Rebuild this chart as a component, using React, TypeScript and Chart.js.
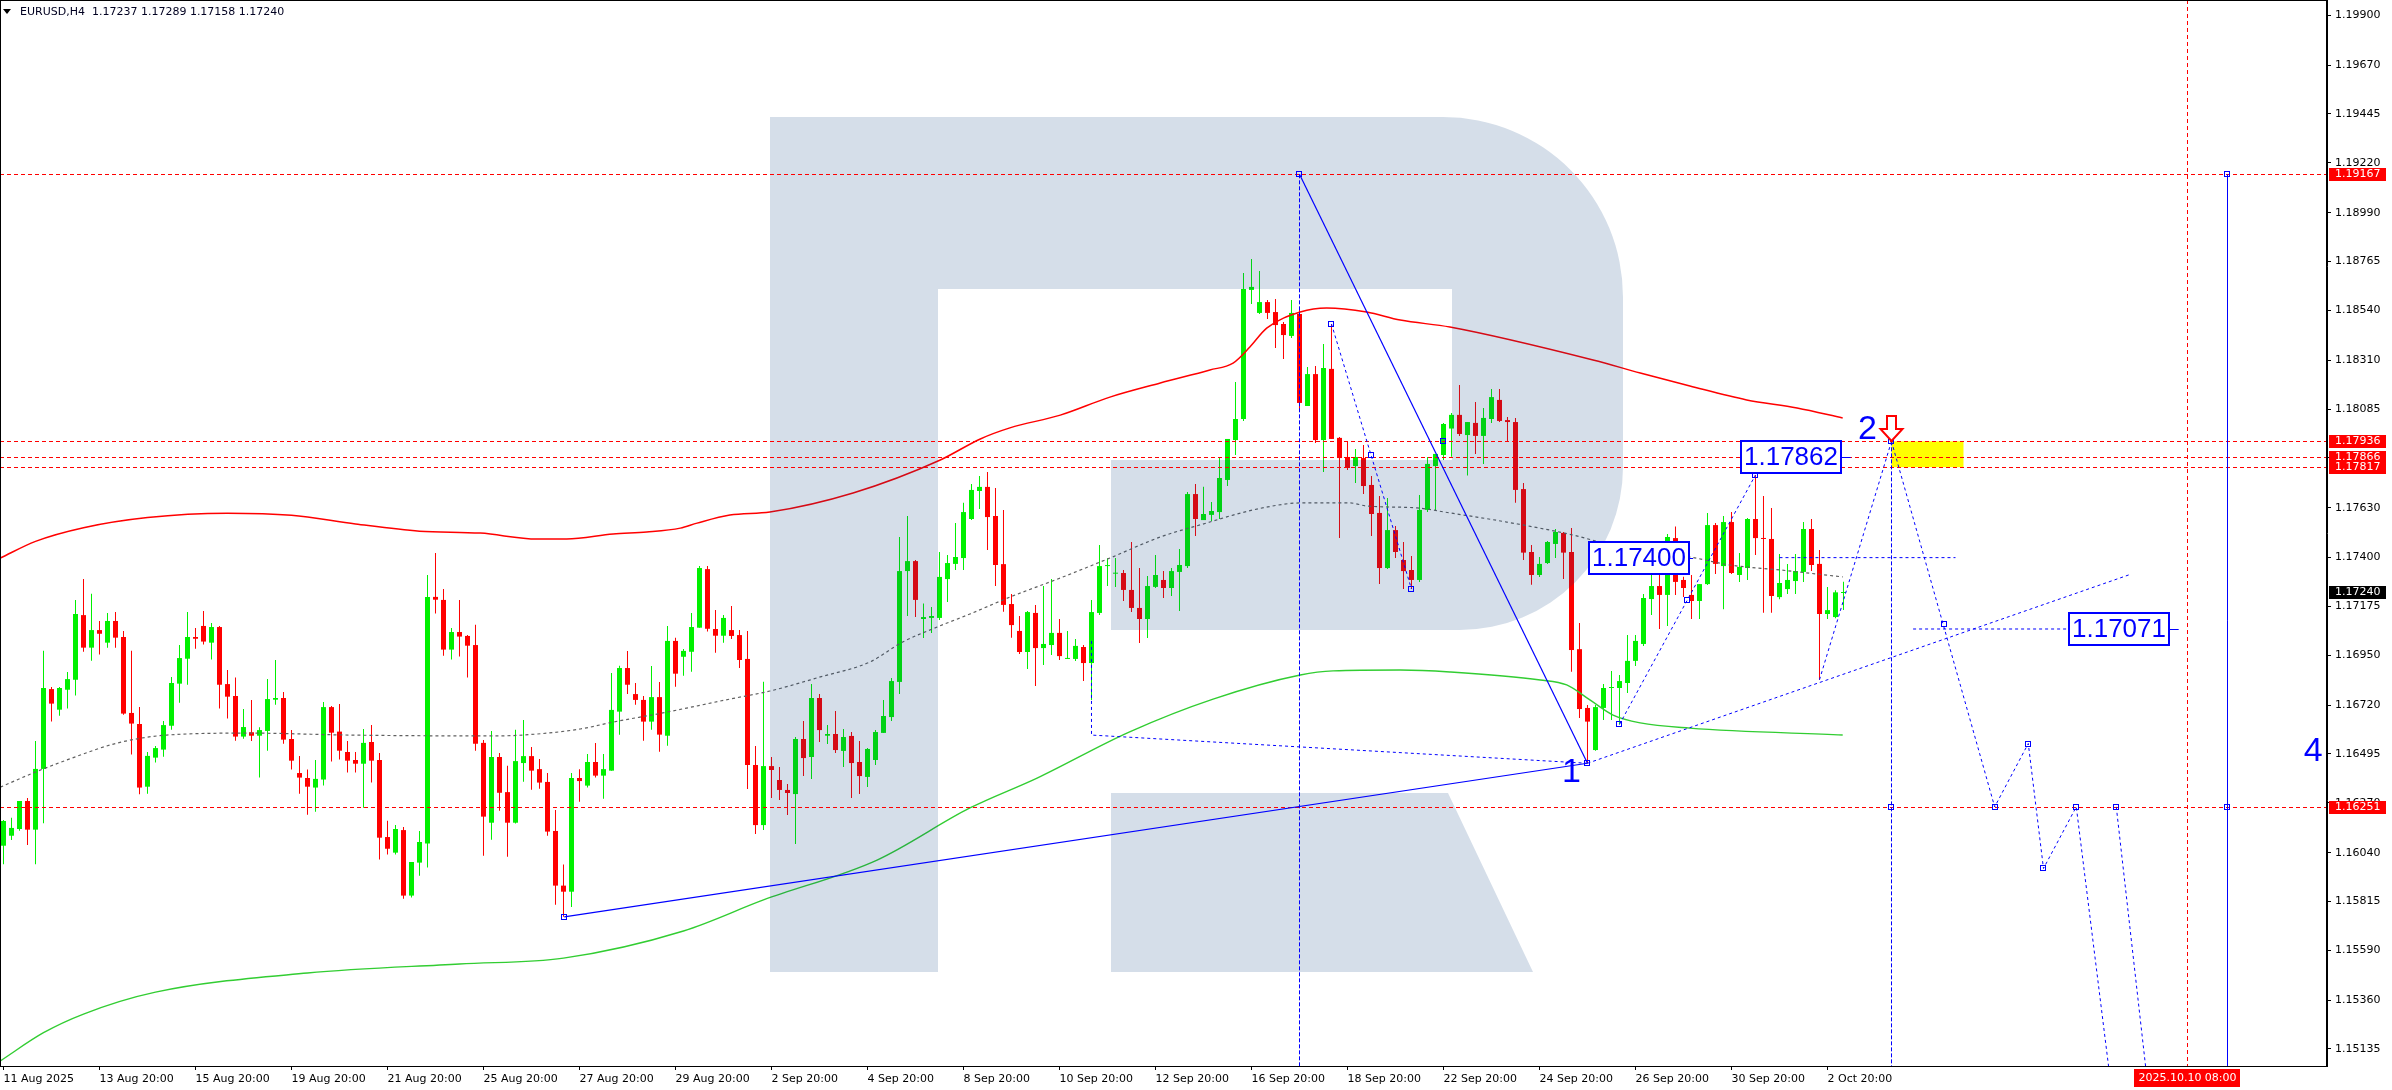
import React, { useEffect, useRef } from "react";
import { Chart, registerables } from "chart.js";

Chart.register(...registerables);

const symbolTitle = "EURUSD,H4";
const lastBarOHLC = ["1.17237", "1.17289", "1.17158", "1.17240"];

const xTickLabels = [
  "11 Aug 2025", "13 Aug 20:00", "15 Aug 20:00", "19 Aug 20:00", "21 Aug 20:00",
  "25 Aug 20:00", "27 Aug 20:00", "29 Aug 20:00", "2 Sep 20:00", "4 Sep 20:00",
  "8 Sep 20:00", "10 Sep 20:00", "12 Sep 20:00", "16 Sep 20:00", "18 Sep 20:00",
  "22 Sep 20:00", "24 Sep 20:00", "26 Sep 20:00", "30 Sep 20:00", "2 Oct 20:00",
];
const xTickStep = 12;

const yTickValues = [
  1.199, 1.1967, 1.19445, 1.1922, 1.1899, 1.18765, 1.1854, 1.1831, 1.18085, 1.1786,
  1.1763, 1.174, 1.17175, 1.1695, 1.1672, 1.16495, 1.1627, 1.1604, 1.15815, 1.1559,
  1.1536, 1.15135,
];

const opens = [
  1.16072, 1.16118, 1.16149, 1.16278, 1.16146, 1.16426, 1.16794, 1.16699, 1.16791, 1.16837,
  1.17135, 1.16985, 1.17066, 1.17008, 1.17108, 1.17034, 1.16684, 1.16633, 1.16344, 1.16478,
  1.16515, 1.16625, 1.16819, 1.16934, 1.17034, 1.17085, 1.17008, 1.1708, 1.16817, 1.16762,
  1.16575, 1.16595, 1.16579, 1.16601, 1.16745, 1.16753, 1.16564, 1.16407, 1.16384, 1.1634,
  1.16377, 1.16711, 1.16598, 1.16504, 1.16467, 1.1645, 1.1655, 1.16467, 1.16112, 1.1604,
  1.16144, 1.15842, 1.15994, 1.16082, 1.17219, 1.17205, 1.16976, 1.17057, 1.17039, 1.16997,
  1.16546, 1.16178, 1.16481, 1.16319, 1.16178, 1.16453, 1.16485, 1.16425, 1.16366, 1.1614,
  1.15888, 1.1586, 1.16384, 1.16349, 1.16458, 1.16395, 1.16418, 1.1669, 1.16891, 1.16771,
  1.16744, 1.16644, 1.16757, 1.16579, 1.17016, 1.16943, 1.16966, 1.17077, 1.17347, 1.17071,
  1.1704, 1.17066, 1.17043, 1.16933, 1.16444, 1.16167, 1.16439, 1.16375, 1.16329, 1.1631,
  1.16564, 1.16481, 1.16753, 1.16579, 1.16587, 1.16509, 1.16578, 1.16458, 1.16389, 1.16467,
  1.16592, 1.16665, 1.16827, 1.17338, 1.17384, 1.17117, 1.17122, 1.17122, 1.17301, 1.17371,
  1.17398, 1.17578, 1.17707, 1.17726, 1.17592, 1.1737, 1.17186, 1.17062, 1.16965, 1.17145,
  1.16983, 1.16997, 1.17053, 1.16933, 1.16933, 1.16988, 1.16914, 1.17145, 1.17361, 1.17326,
  1.17329, 1.17251, 1.17168, 1.17117, 1.17265, 1.17297, 1.1726, 1.17334, 1.17361, 1.17693,
  1.17573, 1.17597, 1.1761, 1.17758, 1.17942, 1.18039, 1.18634, 1.18528, 1.18578, 1.18532,
  1.18477, 1.18422, 1.18523, 1.18099, 1.18246, 1.17942, 1.1827, 1.17952, 1.17864, 1.17822,
  1.17859, 1.17735, 1.17606, 1.17352, 1.17527, 1.17389, 1.17343, 1.17297, 1.1762, 1.17822,
  1.17873, 1.17995, 1.18058, 1.17965, 1.18021, 1.17961, 1.18039, 1.18127, 1.18034, 1.18025,
  1.17716, 1.17426, 1.1732, 1.17375, 1.17463, 1.17514, 1.17426, 1.16978, 1.16707, 1.16513,
  1.16707, 1.16799, 1.16799, 1.16822, 1.16924, 1.17002, 1.17209, 1.17269, 1.17228, 1.1749,
  1.17297, 1.17228, 1.172, 1.17278, 1.1755, 1.17361, 1.17564, 1.1732, 1.17352, 1.17578,
  1.1749, 1.17486, 1.17218, 1.17255, 1.17292, 1.17334, 1.17532, 1.17371, 1.1714, 1.17126,
  1.17237,
];
const highs = [
  1.1619, 1.16201, 1.16278, 1.16292, 1.16555, 1.16971, 1.16804, 1.16804, 1.16873, 1.17205,
  1.17301, 1.17234, 1.17108, 1.17145, 1.17149, 1.17062, 1.16971, 1.16711, 1.16504, 1.16532,
  1.16647, 1.1685, 1.16997, 1.17149, 1.17076, 1.17154, 1.17099, 1.17085, 1.16882, 1.16847,
  1.16702, 1.16744, 1.16618, 1.16841, 1.16928, 1.16781, 1.16605, 1.16486, 1.16423, 1.16467,
  1.16735, 1.16716, 1.16725, 1.16555, 1.16504, 1.1661, 1.16629, 1.16499, 1.16187, 1.16168,
  1.16158, 1.15997, 1.1614, 1.1732, 1.17421, 1.17255, 1.17076, 1.17205, 1.17043, 1.1709,
  1.16559, 1.16601, 1.16499, 1.16441, 1.16607, 1.16651, 1.16527, 1.16472, 1.16407, 1.16237,
  1.15985, 1.16407, 1.16425, 1.16495, 1.16545, 1.16495, 1.16868, 1.16902, 1.1697, 1.16822,
  1.16762, 1.169, 1.16827, 1.17085, 1.17031, 1.16979, 1.17145, 1.17361, 1.17361, 1.17159,
  1.17135, 1.17177, 1.17066, 1.17062, 1.16532, 1.16828, 1.16481, 1.16435, 1.16356, 1.16573,
  1.16647, 1.16817, 1.16771, 1.16628, 1.16693, 1.1661, 1.16596, 1.16555, 1.16522, 1.16605,
  1.16744, 1.16845, 1.17495, 1.17592, 1.17389, 1.17189, 1.17172, 1.17426, 1.17412, 1.1756,
  1.17653, 1.17739, 1.17776, 1.17795, 1.17721, 1.17619, 1.17232, 1.17131, 1.17154, 1.17182,
  1.17269, 1.17301, 1.17117, 1.17062, 1.17025, 1.16997, 1.17205, 1.17458, 1.17397, 1.17398,
  1.17343, 1.17472, 1.17352, 1.17315, 1.17412, 1.17338, 1.17352, 1.1744, 1.17702, 1.17739,
  1.17727, 1.17656, 1.17864, 1.17947, 1.1821, 1.18712, 1.18777, 1.18721, 1.18588, 1.18592,
  1.18486, 1.18588, 1.18542, 1.18279, 1.18283, 1.18385, 1.18477, 1.17956, 1.17938, 1.17901,
  1.17919, 1.17776, 1.17684, 1.17675, 1.17546, 1.17472, 1.17408, 1.17689, 1.17864, 1.17878,
  1.18021, 1.18067, 1.18196, 1.18025, 1.18117, 1.1809, 1.18177, 1.18177, 1.18048, 1.18044,
  1.17744, 1.17458, 1.17403, 1.17477, 1.17532, 1.17518, 1.17537, 1.17099, 1.16721, 1.16721,
  1.16817, 1.16877, 1.16859, 1.17043, 1.17043, 1.17232, 1.17325, 1.1732, 1.17509, 1.17543,
  1.17312, 1.1732, 1.17278, 1.17606, 1.1756, 1.17592, 1.1761, 1.17421, 1.17583, 1.17781,
  1.17684, 1.17629, 1.17417, 1.17371, 1.17417, 1.17564, 1.17578, 1.17435, 1.17264, 1.1725,
  1.17289,
];
const lows = [
  1.15986, 1.16098, 1.16141, 1.16075, 1.15986, 1.16175, 1.16644, 1.16671, 1.16704, 1.16764,
  1.16966, 1.16925, 1.16953, 1.16985, 1.16985, 1.16676, 1.16492, 1.16309, 1.16312, 1.16456,
  1.16482, 1.16607, 1.16731, 1.16814, 1.1698, 1.16999, 1.1693, 1.16704, 1.16658, 1.16556,
  1.16565, 1.16555, 1.16386, 1.1651, 1.16722, 1.16542, 1.16423, 1.16312, 1.16215, 1.16229,
  1.16349, 1.1646, 1.16469, 1.16409, 1.16409, 1.16247, 1.16363, 1.16008, 1.16031, 1.16031,
  1.15828, 1.15833, 1.15934, 1.15971, 1.17142, 1.16948, 1.1693, 1.16944, 1.16847, 1.1651,
  1.16026, 1.161, 1.16233, 1.16021, 1.16174, 1.16367, 1.1633, 1.16335, 1.16118, 1.158,
  1.15744, 1.1579, 1.16275, 1.1634, 1.16386, 1.16289, 1.16418, 1.16584, 1.16771, 1.16722,
  1.16556, 1.16607, 1.16505, 1.16533, 1.16805, 1.16856, 1.16874, 1.17077, 1.17059, 1.16962,
  1.17008, 1.17025, 1.16891, 1.16333, 1.16126, 1.16144, 1.16292, 1.16283, 1.16214, 1.1608,
  1.16393, 1.1638, 1.1655, 1.16541, 1.16499, 1.16435, 1.16292, 1.1631, 1.16343, 1.16444,
  1.16592, 1.16647, 1.16771, 1.17131, 1.17126, 1.1703, 1.17053, 1.17112, 1.17195, 1.17343,
  1.17343, 1.17573, 1.17624, 1.17435, 1.17269, 1.17151, 1.17031, 1.16956, 1.16887, 1.16808,
  1.16905, 1.16951, 1.16928, 1.16933, 1.16924, 1.16831, 1.16744, 1.17136, 1.17269, 1.17265,
  1.172, 1.17149, 1.17006, 1.1703, 1.1726, 1.17214, 1.17223, 1.17154, 1.17352, 1.175,
  1.17573, 1.17569, 1.17578, 1.1773, 1.17873, 1.1803, 1.18569, 1.18523, 1.185, 1.18366,
  1.18316, 1.18412, 1.18071, 1.18099, 1.17928, 1.17795, 1.17947, 1.17491, 1.17804, 1.17744,
  1.17693, 1.175, 1.17278, 1.17348, 1.17398, 1.17255, 1.17255, 1.17288, 1.1761, 1.1762,
  1.1785, 1.17865, 1.17961, 1.17778, 1.17878, 1.17832, 1.18021, 1.18025, 1.17938, 1.17653,
  1.17389, 1.17275, 1.17311, 1.17371, 1.17398, 1.17302, 1.16874, 1.16661, 1.16452, 1.1651,
  1.16652, 1.16652, 1.16631, 1.16776, 1.169, 1.16993, 1.17136, 1.17071, 1.17085, 1.17228,
  1.17219, 1.17117, 1.17117, 1.17274, 1.17325, 1.17162, 1.17325, 1.17288, 1.17297, 1.17412,
  1.17146, 1.17146, 1.17208, 1.17232, 1.17232, 1.17288, 1.17338, 1.16837, 1.17117, 1.17121,
  1.17158,
];
const closes = [
  1.16186, 1.16154, 1.16278, 1.16146, 1.16426, 1.16799, 1.16727, 1.16799, 1.1684, 1.1714,
  1.16985, 1.17066, 1.17049, 1.17108, 1.17031, 1.16681, 1.16635, 1.1634, 1.16486, 1.16522,
  1.16628, 1.16822, 1.16937, 1.17034, 1.17026, 1.17013, 1.1708, 1.16814, 1.16759, 1.16575,
  1.16619, 1.16579, 1.16605, 1.16748, 1.16753, 1.16561, 1.16464, 1.16386, 1.16344, 1.1638,
  1.16711, 1.16593, 1.1651, 1.16464, 1.1645, 1.16546, 1.16464, 1.16109, 1.16058, 1.16149,
  1.15842, 1.15997, 1.16089, 1.17219, 1.17206, 1.16976, 1.17057, 1.17036, 1.16994, 1.16542,
  1.16206, 1.16481, 1.16316, 1.16178, 1.16462, 1.16485, 1.16418, 1.16363, 1.16137, 1.15888,
  1.1586, 1.16384, 1.1637, 1.16458, 1.16395, 1.16425, 1.16698, 1.16891, 1.16814, 1.16744,
  1.16644, 1.16757, 1.16584, 1.17016, 1.16865, 1.1697, 1.1708, 1.17352, 1.17072, 1.1704,
  1.17122, 1.17039, 1.16928, 1.16444, 1.16167, 1.16439, 1.16421, 1.16329, 1.16315, 1.16564,
  1.16476, 1.16753, 1.16605, 1.16587, 1.16513, 1.16573, 1.16453, 1.16393, 1.16518, 1.16596,
  1.1667, 1.16831, 1.17338, 1.17384, 1.17205, 1.17126, 1.17131, 1.17311, 1.17375, 1.17403,
  1.1761, 1.17712, 1.17726, 1.17587, 1.17366, 1.17182, 1.17089, 1.16965, 1.17149, 1.16983,
  1.17002, 1.17053, 1.16946, 1.16937, 1.16993, 1.16914, 1.17149, 1.17361, 1.17365, 1.1733,
  1.17251, 1.17168, 1.17117, 1.17269, 1.1732, 1.1726, 1.17338, 1.17366, 1.17693, 1.17578,
  1.17601, 1.17615, 1.17767, 1.17947, 1.18039, 1.18638, 1.18648, 1.18578, 1.18528, 1.18472,
  1.18426, 1.18528, 1.18113, 1.18246, 1.17942, 1.18274, 1.17947, 1.17859, 1.17813, 1.17864,
  1.1773, 1.17601, 1.17352, 1.17527, 1.17426, 1.17338, 1.17297, 1.1762, 1.17832, 1.17878,
  1.18016, 1.18058, 1.1797, 1.18025, 1.17961, 1.18044, 1.1814, 1.1803, 1.18025, 1.17712,
  1.17423, 1.1732, 1.17371, 1.17472, 1.17518, 1.17423, 1.16974, 1.16702, 1.16644, 1.16711,
  1.16799, 1.16802, 1.16831, 1.16924, 1.17016, 1.17214, 1.17269, 1.17228, 1.17495, 1.17288,
  1.1726, 1.172, 1.17278, 1.1755, 1.17371, 1.17564, 1.17329, 1.17357, 1.17578, 1.1749,
  1.17486, 1.17223, 1.17283, 1.17297, 1.17338, 1.17532, 1.17366, 1.1714, 1.17158, 1.1724,
  1.1724,
];

// moving averages read as [bar index, price]
const maRed = [
  [-0.4, 1.17398], [4, 1.17475], [10, 1.17538], [18, 1.17585], [28, 1.17605], [36, 1.17595],
  [44, 1.17555], [52, 1.17522], [59.6, 1.17513], [66.7, 1.17486], [70.4, 1.17486], [76.2, 1.17509],
  [80.4, 1.17518], [84.6, 1.17536], [86.7, 1.17559], [90.8, 1.17596], [95.8, 1.1761],
  [106.2, 1.17698], [117.1, 1.1785], [122.1, 1.17947], [125.8, 1.17998], [132.1, 1.18057],
  [138.3, 1.1814], [144.6, 1.18205], [150.8, 1.18265], [153.7, 1.18297], [155.8, 1.18371],
  [157.9, 1.18458], [162.1, 1.18532], [165.4, 1.18551], [170.4, 1.18532], [174.6, 1.18495],
  [180.8, 1.18463], [198.7, 1.18311], [204.6, 1.18251], [210.8, 1.18191], [217.9, 1.18127],
  [224.2, 1.1809], [229.9, 1.18044],
];
const maGreen = [
  [-0.4, 1.1508], [5, 1.1521], [10, 1.15296], [19, 1.15397], [38, 1.15485], [57, 1.15527],
  [70, 1.15554], [85, 1.15679], [95, 1.15822], [109.2, 1.16006], [120.8, 1.16246],
  [129.2, 1.16384], [140.7, 1.16596], [151.2, 1.16748], [162.1, 1.16859], [166.2, 1.16878],
  [174.6, 1.16882], [180.8, 1.16873], [192.1, 1.16836], [195.4, 1.16813], [198.3, 1.16744],
  [201.2, 1.16674], [204.6, 1.16638], [210.8, 1.16614], [229.9, 1.16582],
];
const maGray = [
  [-0.4, 1.16342], [3.7, 1.16407], [7.9, 1.16467], [14.2, 1.16545], [20.4, 1.16582],
  [30.8, 1.16591], [43.3, 1.16582], [60.8, 1.16578], [64.9, 1.16582], [72.1, 1.1661],
  [76.2, 1.16642], [82.4, 1.16684], [90.8, 1.16748], [95.8, 1.16785], [102.1, 1.1685],
  [108.3, 1.16919], [112.4, 1.17011], [116.7, 1.1708], [120.8, 1.1714], [125.8, 1.17218],
  [132.1, 1.17306], [138.3, 1.17398], [144.6, 1.17495], [150.8, 1.17564], [153.7, 1.17596],
  [157.9, 1.17633], [162.1, 1.17652], [168.3, 1.17652], [170.4, 1.17638], [176.7, 1.17629],
  [180.8, 1.17606], [187.9, 1.17564], [196.2, 1.17504], [202.4, 1.17444], [210.8, 1.17403],
  [215.8, 1.17366], [222.1, 1.17343], [229.9, 1.17311],
];

// analysis objects
const levelPrices = [1.19167, 1.17936, 1.17866, 1.17817, 1.16251];
const bidPrice = 1.1724;
const timeLineIndex = 273;
const timeLineLabel = "2025.10.10 08:00";
const targetLineIndex = 278;
const targetTop = 1.19167;
const solidLines = [
  [[162, 1.19167], [198, 1.16452]],
  [[70.1, 1.15744], [198, 1.16452]],
];
const dashedDrops = [[162, 1.19167], [236, 1.17936]];
const dottedPaths = [
  [[136, 1.17016], [136, 1.16582], [198, 1.16452]],
  [[166, 1.18477], [176, 1.17255]],
  [[202, 1.16631], [219, 1.17781]],
  [[198, 1.16452], [265.8, 1.17322]],
  [[227, 1.16837], [236, 1.17936]],
  [[236, 1.17936], [248.9, 1.16251], [253.1, 1.16543], [255, 1.15967], [259.1, 1.16251], [264.2, 1.1474]],
  [[264.1, 1.16251], [268.3, 1.1488]],
  [[222, 1.174], [244, 1.174]],
  [[238.7, 1.17071], [258.2, 1.17071]],
];
const priceTags = [
  { text: "1.17400", index: 198.2, price: 1.174, tickTo: 211.2 },
  { text: "1.17862", index: 217.2, price: 1.17862, tickTo: 230.9 },
  { text: "1.17071", index: 258.2, price: 1.17071, tickTo: 271.9 },
];
const waveLabels = [
  { text: "1", index: 196, price: 1.16407 },
  { text: "2", index: 233, price: 1.17989 },
  { text: "4", index: 288.7, price: 1.16507 },
];
const sellZone = { from: 236, to: 245, top: 1.17936, bottom: 1.17817 };
const arrowAt = { index: 236, price: 1.17936 };
const anchorPoints = [
  [162, 1.19167], [198, 1.16452], [70.1, 1.15744], [278, 1.19167], [278, 1.16251],
  [166, 1.18477], [171, 1.17874], [176, 1.17255], [202, 1.16631], [210.4, 1.17204],
  [219, 1.17781], [236, 1.17936], [242.6, 1.17094], [248.9, 1.16251], [253.1, 1.16543],
  [255, 1.15967], [259.1, 1.16251], [264.1, 1.16251], [236, 1.16251], [180, 1.17936],
];

const X_MIN = -0.4375;
const X_MAX = 290.44;
const Y_MIN = 1.150565;
const Y_MAX = 1.199705;

const FONT = "DejaVu Sans";

function drawLogo(ctx: CanvasRenderingContext2D) {
  ctx.save();
  ctx.fillStyle = "rgba(8,61,126,0.17)";
  ctx.beginPath();
  ctx.moveTo(770, 117);
  ctx.lineTo(1443, 117);
  ctx.arc(1443, 297, 180, -Math.PI / 2, 0);
  ctx.lineTo(1623, 467);
  ctx.arc(1460, 467, 163, 0, Math.PI / 2);
  ctx.lineTo(1111, 630);
  ctx.lineTo(1111, 460);
  ctx.lineTo(1452, 460);
  ctx.lineTo(1452, 289);
  ctx.lineTo(938, 289);
  ctx.lineTo(938, 972);
  ctx.lineTo(770, 972);
  ctx.closePath();
  ctx.moveTo(1111, 793);
  ctx.lineTo(1448, 793);
  ctx.lineTo(1533, 972);
  ctx.lineTo(1111, 972);
  ctx.closePath();
  ctx.fill();
  ctx.restore();
}

const overlayPlugin = {
  id: "mt4overlay",
  afterDatasetsDraw(chart: any) {
    const { ctx, chartArea: a, scales } = chart;
    const X = (v: number) => scales.x.getPixelForValue(v);
    const Y = (v: number) => scales.y.getPixelForValue(v);
    const cr = (v: number) => Math.round(v) + 0.5;
    ctx.save();
    ctx.beginPath();
    ctx.rect(a.left, a.top, a.right - a.left, a.bottom - a.top);
    ctx.clip();

    drawLogo(ctx);

    // yellow zone
    ctx.fillStyle = "#ffff00";
    ctx.fillRect(X(sellZone.from), Y(sellZone.top), X(sellZone.to) - X(sellZone.from), Y(sellZone.bottom) - Y(sellZone.top));

    // red horizontal levels
    ctx.lineWidth = 1;
    ctx.strokeStyle = "#ff0000";
    ctx.setLineDash([4, 3]);
    for (const p of levelPrices) {
      ctx.beginPath();
      ctx.moveTo(a.left, cr(Y(p)));
      ctx.lineTo(a.right, cr(Y(p)));
      ctx.stroke();
    }
    // red vertical time line
    ctx.beginPath();
    ctx.moveTo(cr(X(timeLineIndex)), a.top);
    ctx.lineTo(cr(X(timeLineIndex)), a.bottom);
    ctx.stroke();

    // blue solid lines
    ctx.setLineDash([]);
    ctx.strokeStyle = "#0000ff";
    ctx.lineWidth = 1.2;
    for (const seg of solidLines) {
      ctx.beginPath();
      ctx.moveTo(X(seg[0][0]), Y(seg[0][1]));
      for (let k = 1; k < seg.length; k++) ctx.lineTo(X(seg[k][0]), Y(seg[k][1]));
      ctx.stroke();
    }
    ctx.lineWidth = 1;
    ctx.beginPath();
    ctx.moveTo(cr(X(targetLineIndex)), Y(targetTop));
    ctx.lineTo(cr(X(targetLineIndex)), a.bottom);
    ctx.stroke();

    // blue dashed drops
    ctx.setLineDash([4, 2]);
    for (const d of dashedDrops) {
      ctx.beginPath();
      ctx.moveTo(cr(X(d[0])), Y(d[1]));
      ctx.lineTo(cr(X(d[0])), a.bottom);
      ctx.stroke();
    }
    // dotted paths
    ctx.setLineDash([3, 3]);
    for (const path of dottedPaths) {
      ctx.beginPath();
      ctx.moveTo(X(path[0][0]), Y(path[0][1]));
      for (let k = 1; k < path.length; k++) ctx.lineTo(X(path[k][0]), Y(path[k][1]));
      ctx.stroke();
    }
    ctx.setLineDash([]);

    // anchors
    ctx.strokeStyle = "#0000ff";
    for (const [i, p] of anchorPoints) {
      const x = Math.round(X(i));
      const y = Math.round(Y(p));
      ctx.strokeRect(x - 2.5, y - 2.5, 5, 5);
    }

    // price tags
    ctx.font = "26px 'Liberation Sans', Arial, sans-serif";
    ctx.textBaseline = "middle";
    ctx.textAlign = "left";
    for (const t of priceTags) {
      const w = ctx.measureText(t.text).width;
      const x0 = Math.round(X(t.index));
      const yc = Math.round(Y(t.price));
      const bw = Math.round(w + 6);
      ctx.fillStyle = "#ffffff";
      ctx.fillRect(x0, yc - 16, bw, 32);
      ctx.strokeStyle = "#0000ff";
      ctx.lineWidth = 2;
      ctx.strokeRect(x0, yc - 16, bw, 32);
      ctx.lineWidth = 1;
      ctx.beginPath();
      ctx.moveTo(x0 + bw, yc + 0.5);
      ctx.lineTo(X(t.tickTo), yc + 0.5);
      ctx.stroke();
      ctx.fillStyle = "#0000ff";
      ctx.fillText(t.text, x0 + 3, yc + 1);
    }

    // wave numbers
    ctx.font = "34px 'Liberation Sans', Arial, sans-serif";
    ctx.textAlign = "center";
    ctx.fillStyle = "#0000ff";
    for (const l of waveLabels) {
      ctx.fillText(l.text, X(l.index), Y(l.price));
    }

    // red down arrow
    const ax = Math.round(X(arrowAt.index)) + 0.5;
    const ay = Math.round(Y(arrowAt.price));
    ctx.beginPath();
    ctx.moveTo(ax - 4.5, ay - 25);
    ctx.lineTo(ax + 4.5, ay - 25);
    ctx.lineTo(ax + 4.5, ay - 12);
    ctx.lineTo(ax + 11, ay - 12);
    ctx.lineTo(ax, ay);
    ctx.lineTo(ax - 11, ay - 12);
    ctx.lineTo(ax - 4.5, ay - 12);
    ctx.closePath();
    ctx.fillStyle = "#ffffff";
    ctx.fill();
    ctx.strokeStyle = "#ff0000";
    ctx.lineWidth = 2;
    ctx.stroke();

    ctx.restore();
  },
  afterDraw(chart: any) {
    const { ctx, chartArea: a, scales } = chart;
    const X = (v: number) => scales.x.getPixelForValue(v);
    const Y = (v: number) => scales.y.getPixelForValue(v);
    ctx.save();
    // frame
    ctx.strokeStyle = "#000000";
    ctx.lineWidth = 1;
    ctx.strokeRect(a.left + 0.5, a.top + 0.5, a.right - a.left - 1, a.bottom - a.top);

    // axis price boxes
    ctx.font = `11px '${FONT}'`;
    ctx.textBaseline = "middle";
    ctx.textAlign = "left";
    const boxes = levelPrices.map((p) => ({ p, bg: "#ff0000" })).concat([{ p: bidPrice, bg: "#000000" }]);
    for (const b of boxes) {
      const y = Math.round(Y(b.p));
      ctx.fillStyle = b.bg;
      ctx.fillRect(a.right + 2, y - 6, 57, 13);
      ctx.fillStyle = "#ffffff";
      ctx.fillText(b.p.toFixed(5), a.right + 8, y + 0.5);
    }
    // time label
    const tx = X(timeLineIndex);
    const tw = ctx.measureText(timeLineLabel).width;
    ctx.fillStyle = "#ff0000";
    ctx.fillRect(Math.round(tx - tw / 2 - 4), a.bottom + 3, Math.round(tw + 8), 18);
    ctx.fillStyle = "#ffffff";
    ctx.textAlign = "center";
    ctx.fillText(timeLineLabel, tx, a.bottom + 12.5);

    // title
    ctx.fillStyle = "#000000";
    ctx.beginPath();
    ctx.moveTo(3, 9);
    ctx.lineTo(11, 9);
    ctx.lineTo(7, 14);
    ctx.closePath();
    ctx.fill();
    ctx.textAlign = "left";
    ctx.fillStyle = "#000020";
    ctx.fillText(`${symbolTitle}  ${lastBarOHLC.join(" ")}`, 20, 12.5);
    ctx.restore();
  },
};

export default function App() {
  const ref = useRef<HTMLCanvasElement | null>(null);
  useEffect(() => {
    document.body.style.margin = "0";
    const canvas = ref.current;
    if (!canvas) return;
    const idx = closes.map((_, i) => i);
    const colors = idx.map((i) => (closes[i] >= opens[i] ? "#00f000" : "#ff0000"));
    const toXY = (arr: number[][]) => arr.map(([x, y]) => ({ x, y }));
    const chart = new Chart(canvas, {
      type: "bar",
      data: {
        datasets: [
          {
            type: "line",
            label: "MA red",
            data: toXY(maRed),
            borderColor: "#ff0000",
            borderWidth: 1.5,
            pointRadius: 0,
            cubicInterpolationMode: "monotone",
            order: 0,
          } as any,
          {
            type: "line",
            label: "MA green",
            data: toXY(maGreen),
            borderColor: "#32cd32",
            borderWidth: 1.4,
            pointRadius: 0,
            cubicInterpolationMode: "monotone",
            order: 0,
          } as any,
          {
            type: "line",
            label: "MA gray",
            data: toXY(maGray),
            borderColor: "#606060",
            borderWidth: 1.2,
            borderDash: [3, 3],
            pointRadius: 0,
            cubicInterpolationMode: "monotone",
            order: 0,
          } as any,
          {
            type: "bar",
            label: "body",
            data: idx.map((i) => ({ x: i, y: [opens[i], closes[i]] })),
            backgroundColor: colors,
            barThickness: 5,
            minBarLength: 1,
            grouped: false,
            inflateAmount: 0,
            borderWidth: 0,
            order: 1,
          } as any,
          {
            type: "bar",
            label: "wick",
            data: idx.map((i) => ({ x: i, y: [lows[i], highs[i]] })),
            backgroundColor: colors,
            barThickness: 1,
            grouped: false,
            inflateAmount: 0,
            borderWidth: 0,
            order: 2,
          } as any,
        ],
      },
      options: {
        responsive: false,
        animation: false,
        events: [],
        layout: { padding: 0 },
        plugins: { legend: { display: false }, tooltip: { enabled: false } },
        scales: {
          x: {
            type: "linear",
            min: X_MIN,
            max: X_MAX,
            offset: false,
            position: "bottom",
            grid: { display: true, drawOnChartArea: false, drawTicks: true, tickLength: 4, color: "#000000", offset: false },
            border: { display: true, color: "#000000" },
            ticks: {
              autoSkip: false,
              maxRotation: 0,
              align: "start",
              padding: 3,
              color: "#000000",
              font: { family: FONT, size: 11 },
              callback: (_v: any, i: number) => xTickLabels[i],
            },
            afterBuildTicks: (s: any) => {
              s.ticks = xTickLabels.map((_, k) => ({ value: k * xTickStep }));
            },
            afterFit: (s: any) => {
              s.height = 24;
              s.paddingLeft = 0;
              s.paddingRight = 0;
            },
          },
          y: {
            type: "linear",
            position: "right",
            min: Y_MIN,
            max: Y_MAX,
            grid: { display: true, drawOnChartArea: false, drawTicks: true, tickLength: 4, color: "#000000" },
            border: { display: true, color: "#000000" },
            ticks: {
              autoSkip: false,
              padding: 4,
              color: "#000000",
              font: { family: FONT, size: 11 },
              callback: (v: any) => Number(v).toFixed(5),
            },
            afterBuildTicks: (s: any) => {
              s.ticks = yTickValues.map((v) => ({ value: v }));
            },
            afterFit: (s: any) => {
              s.width = 65;
              s.paddingTop = 0;
              s.paddingBottom = 0;
            },
          },
        },
      } as any,
      plugins: [overlayPlugin],
    });
    return () => chart.destroy();
  }, []);
  return (
    <div style={{ position: "fixed", left: 0, top: 0, width: 2392, height: 1090, background: "#ffffff" }}>
      <canvas ref={ref} width={2392} height={1090} style={{ display: "block" }} />
    </div>
  );
}
